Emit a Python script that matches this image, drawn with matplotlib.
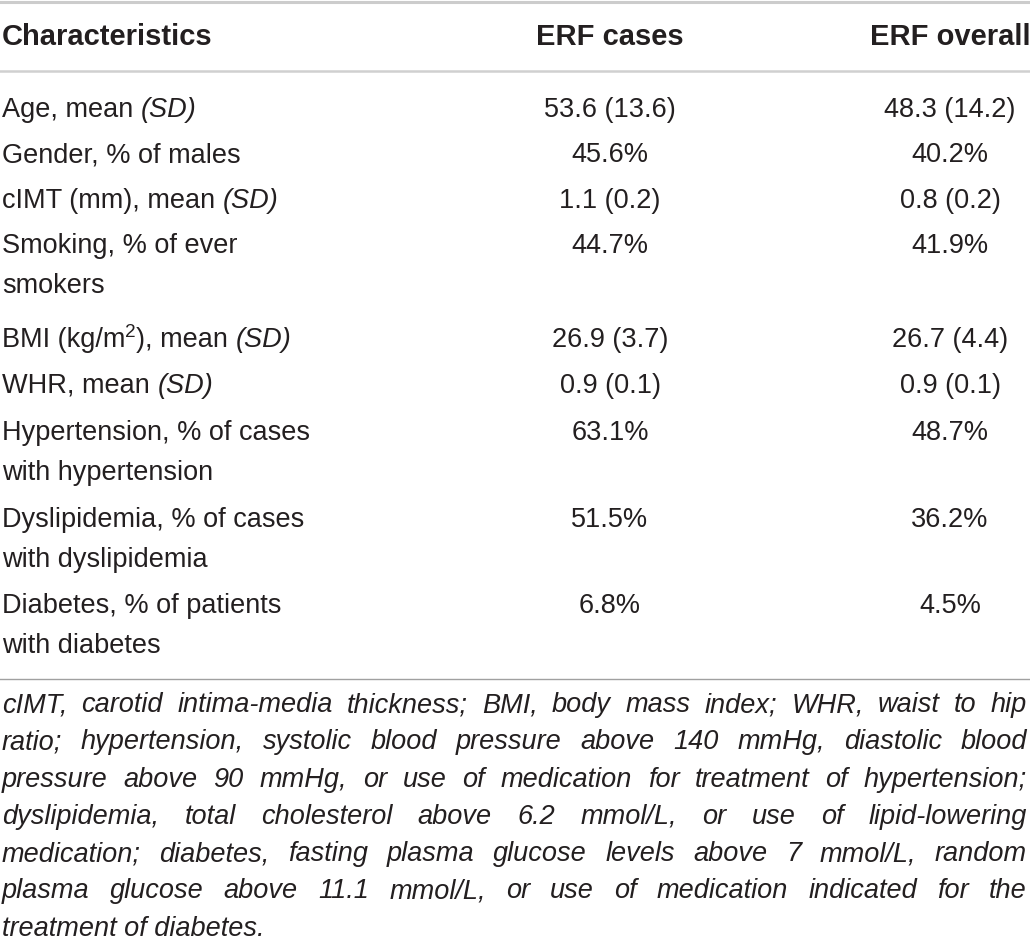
import re
import matplotlib
matplotlib.use("Agg")
import matplotlib.pyplot as plt

# table contents
headers = ["Characteristics", "ERF cases", "ERF overall"]
row_labels = [
    "Age, mean (SD)",
    "Gender, % of males",
    "cIMT (mm), mean (SD)",
    "Smoking, % of ever\nsmokers",
    "BMI (kg/m^2), mean (SD)",
    "WHR, mean (SD)",
    "Hypertension, % of cases\nwith hypertension",
    "Dyslipidemia, % of cases\nwith dyslipidemia",
    "Diabetes, % of patients\nwith diabetes",
]
erf_cases = ["53.6 (13.6)", "45.6%", "1.1 (0.2)", "44.7%", "26.9 (3.7)",
             "0.9 (0.1)", "63.1%", "51.5%", "6.8%"]
erf_overall = ["48.3 (14.2)", "40.2%", "0.8 (0.2)", "41.9%", "26.7 (4.4)",
               "0.9 (0.1)", "48.7%", "36.2%", "4.5%"]
footnote = [
    "cIMT, carotid intima-media thickness; BMI, body mass index; WHR, waist to hip",
    "ratio; hypertension, systolic blood pressure above 140 mmHg, diastolic blood",
    "pressure above 90 mmHg, or use of medication for treatment of hypertension;",
    "dyslipidemia, total cholesterol above 6.2 mmol/L, or use of lipid-lowering",
    "medication; diabetes, fasting plasma glucose levels above 7 mmol/L, random",
    "plasma glucose above 11.1 mmol/L, or use of medication indicated for the",
    "treatment of diabetes.",
]

W, H = 1030, 942
FONT = "Liberation Sans"
INK = "#231f20"
FS = 19.5
row_y = [117, 162, 208, 253, 347, 393, 440, 527, 613]
line_gap = 40
col_x = [2, 610, 950]

fig = plt.figure(figsize=(W / 100, H / 100), dpi=100)
ax = fig.add_axes([0, 0, 1, 1])
ax.set_xlim(0, W)
ax.set_ylim(H, 0)
ax.axis("off")
r = fig.canvas.get_renderer()


def width_px(t):
    bb = t.get_window_extent(renderer=r)
    return bb.width


def draw_label(x, y, s):
    # plain text, italic "(SD)", superscript "^2"
    for part in re.split(r"(\(SD\)|\^2)", s):
        if not part:
            continue
        kw = dict(fontsize=FS, family=FONT, color=INK, va="baseline")
        yy = y
        if part == "(SD)":
            kw["style"] = "italic"
        elif part == "^2":
            part = "2"
            kw["fontsize"] = FS * 0.7
            yy = y - 10
        t = ax.text(x, yy, part, **kw)
        x += width_px(t)


# rules
ax.axhline(1.5, color="#cccccc", lw=2.2)
ax.axhline(71, color="#d0d0d0", lw=1.8)
ax.axhline(679, color="#a0a0a0", lw=1.0)

# header
ax.text(col_x[0], 45, headers[0], fontsize=21, family=FONT, weight="bold",
        color=INK, va="baseline", ha="left")
for i in (1, 2):
    ax.text(col_x[i], 45, headers[i], fontsize=21, family=FONT, weight="bold",
            color=INK, va="baseline", ha="center")

# body
for i, lab in enumerate(row_labels):
    for k, ln in enumerate(lab.split("\n")):
        draw_label(col_x[0], row_y[i] + k * line_gap, ln)
    ax.text(col_x[1], row_y[i], erf_cases[i], fontsize=FS, family=FONT,
            color=INK, va="baseline", ha="center")
    ax.text(col_x[2], row_y[i], erf_overall[i], fontsize=FS, family=FONT,
            color=INK, va="baseline", ha="center")

# footnote, justified
left, right = 2, 1027
for k, ln in enumerate(footnote):
    y = 712 + k * 37.3
    words = ln.split(" ")
    if k == len(footnote) - 1:
        ax.text(left, y, ln, fontsize=FS, family=FONT, style="italic",
                color=INK, va="baseline")
        continue
    ts = [ax.text(0, y, w, fontsize=FS, family=FONT, style="italic",
                  color=INK, va="baseline") for w in words]
    ws = [width_px(t) for t in ts]
    gap = (right - left - sum(ws)) / (len(words) - 1)
    x = left
    for t, w in zip(ts, ws):
        t.set_x(x)
        x += w + gap

fig.savefig("out.png", dpi=100)
